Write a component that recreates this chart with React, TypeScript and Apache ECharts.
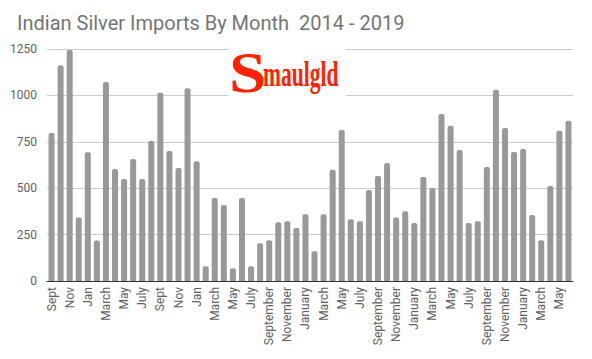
import React, { useEffect, useRef } from "react";
import * as echarts from "echarts";

const months: string[] = [
  "Sept", "Oct", "Nov", "Dec",
  "Jan", "Feb", "March", "April", "May", "June", "July", "Aug", "Sept", "Oct", "Nov", "Dec",
  "Jan", "Feb", "March", "April", "May", "June", "July", "Aug",
  "September", "October", "November", "December",
  "January", "February", "March", "April", "May", "June", "July", "August", "September", "October", "November", "December",
  "January", "February", "March", "April", "May", "June", "July", "August", "September", "October", "November", "December",
  "January", "February", "March", "April", "May", "June",
];

const imports: number[] = [
  798, 1163, 1245, 342,
  694, 218, 1072, 603, 549, 657, 549, 755, 1014, 701, 609, 1039,
  645, 79, 447, 409, 69, 447, 79, 204,
  220, 317, 322, 285,
  360, 160, 360, 600, 814, 333, 322, 490, 566, 636, 342, 376,
  312, 560, 501, 900, 836, 706, 312, 322, 614, 1030, 825, 695,
  711, 355, 220, 512, 809, 863,
];

const titleText = "Indian Silver Imports By Month  2014 - 2019";

export default function App() {
  const ref = useRef<HTMLDivElement>(null);
  useEffect(() => {
    if (!ref.current) return;
    const chart = echarts.init(ref.current, null, { renderer: "svg" });
    chart.setOption({
      animation: false,
      backgroundColor: "#ffffff",
      title: {
        text: titleText,
        left: 12,
        top: 8,
        textStyle: {
          fontFamily: "Roboto",
          fontSize: 20,
          fontWeight: "normal",
          color: "#757575",
        },
      },
      grid: { left: 47, right: 19, top: 49, bottom: 78, containLabel: false },
      xAxis: {
        type: "category",
        data: months,
        axisTick: { show: false },
        axisLine: { lineStyle: { color: "#333333", width: 1 } },
        axisLabel: {
          interval: 1,
          rotate: 90,
          margin: 6,
          fontFamily: "Roboto",
          fontSize: 12,
          color: "#616161",
        },
      },
      yAxis: {
        type: "value",
        min: 0,
        max: 1250,
        interval: 250,
        axisLine: { show: false },
        axisTick: { show: false },
        splitLine: { lineStyle: { color: "#cccccc", width: 1 } },
        axisLabel: {
          margin: 10,
          fontFamily: "Roboto",
          fontSize: 12,
          color: "#616161",
          formatter: (v: number) => String(v),
        },
      },
      series: [
        {
          type: "bar",
          data: imports,
          barWidth: 6,
          itemStyle: { color: "#999999", borderRadius: [2, 2, 0, 0] },
        },
      ],
      graphic: [
        {
          type: "rect",
          left: 229,
          top: 46,
          shape: { width: 117, height: 54 },
          style: { fill: "#ffffff" },
          z: 100,
        },
        {
          type: "text",
          x: 229,
          y: 45,
          z: 101,
          scaleX: 1.2,
          style: {
            text: "S",
            fill: "#ff2200",
            font: "bold 56px 'Liberation Serif'",
          },
        },
        {
          type: "text",
          x: 263,
          y: 56,
          z: 101,
          scaleX: 0.6,
          style: {
            text: "maulgld",
            fill: "#ff2200",
            font: "bold 36px 'Liberation Serif'",
          },
        },
      ],
    });
    return () => chart.dispose();
  }, []);
  return (
    <div
      ref={ref}
      style={{ position: "fixed", left: 0, top: 0, width: 592, height: 359 }}
    />
  );
}
